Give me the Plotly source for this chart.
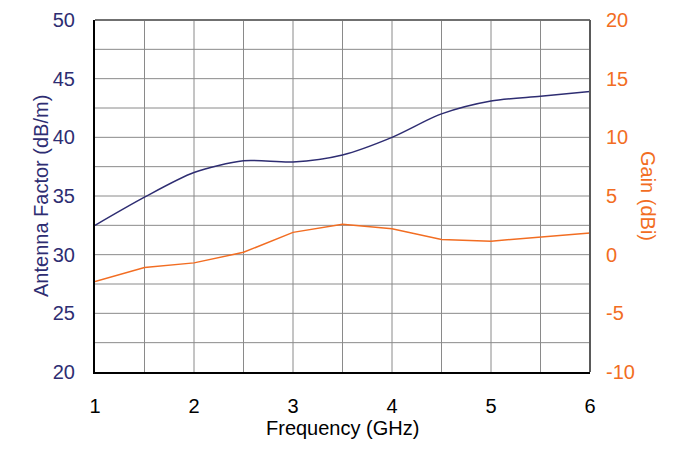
import plotly.graph_objects as go

# Frequency points (GHz)
freq_ghz = [1.0, 1.5, 2.0, 2.5, 3.0, 3.5, 4.0, 4.5, 5.0, 5.5, 6.0]

# Antenna factor (dB/m), left axis
antenna_factor = [32.5, 34.9, 37.0, 38.0, 37.9, 38.5, 40.0, 42.0, 43.1, 43.5, 43.9]

# Gain (dBi), right axis
gain_dbi = [-2.3, -1.1, -0.7, 0.2, 1.9, 2.6, 2.2, 1.3, 1.15, 1.5, 1.85]

x_ticks = [1, 2, 3, 4, 5, 6]
af_ticks = [20, 25, 30, 35, 40, 45, 50]
gain_ticks = [-10, -5, 0, 5, 10, 15, 20]
gain_labels = ["-10", "-5", "0", "5", "10", "15", "20"]
af_grid = [22.5, 25, 27.5, 30, 32.5, 35, 37.5, 40, 42.5, 45, 47.5]

NAVY = "#2e2d72"
ORANGE = "#f26d22"
GRID = "#8a8a8a"
FONT = "Liberation Sans, Arial, sans-serif"
FS = 20

fig = go.Figure()

fig.add_trace(go.Scatter(
    x=freq_ghz, y=antenna_factor, mode="lines",
    line=dict(color=NAVY, width=1.5, shape="spline", smoothing=0.8),
    name="Antenna Factor", yaxis="y",
))
fig.add_trace(go.Scatter(
    x=freq_ghz, y=gain_dbi, mode="lines",
    line=dict(color=ORANGE, width=1.5),
    name="Gain", yaxis="y2",
))

# the page body adds ~8px offset, so margins are shifted to compensate
fig.update_layout(
    width=683, height=466,
    margin=dict(l=87, r=101, t=12, b=102, autoexpand=False),
    paper_bgcolor="white",
    plot_bgcolor="white",
    showlegend=False,
    font=dict(family=FONT, size=FS, color="black"),
    xaxis=dict(
        range=[1, 6], tickvals=x_ticks,
        showgrid=False,
        showline=True, linecolor="black", linewidth=2,
        zeroline=False, ticks="", ticklabelstandoff=15,
        tickfont=dict(size=FS, color="black"),
    ),
    yaxis=dict(
        range=[20, 50], tickvals=af_ticks,
        showgrid=False,
        showline=True, linecolor="black", linewidth=2,
        zeroline=False, ticks="", ticklabelstandoff=14,
        tickfont=dict(color=NAVY, size=FS),
    ),
    yaxis2=dict(
        range=[-10, 20], tickvals=gain_ticks, ticktext=gain_labels,
        overlaying="y", side="right",
        showgrid=False, zeroline=False, showline=False, ticks="",
        ticklabelstandoff=15,
        tickfont=dict(color=ORANGE, size=FS),
    ),
)

# vertical grid every 0.5 GHz
for f in freq_ghz[1:-1]:
    fig.add_shape(type="line", xref="x", yref="paper", x0=f, x1=f, y0=0, y1=1,
                  line=dict(color=GRID, width=1), layer="below")
# horizontal grid every 2.5 dB/m (same as 2.5 dBi on the right scale)
for v in af_grid:
    fig.add_shape(type="line", xref="paper", yref="y", x0=0, x1=1, y0=v, y1=v,
                  line=dict(color=GRID, width=1), layer="below")

# frame: grey top/right edge
fig.add_shape(type="line", xref="paper", yref="paper", x0=0, x1=1, y0=1, y1=1,
              line=dict(color="#707070", width=2))
fig.add_shape(type="line", xref="paper", yref="paper", x0=1, x1=1, y0=0, y1=1,
              line=dict(color="#5a5a5a", width=2))

# axis titles
fig.add_annotation(
    text="Frequency (GHz)", xref="paper", yref="paper", x=0.5, y=0,
    xanchor="center", yanchor="middle", yshift=-56, showarrow=False,
    font=dict(family=FONT, size=FS, color="black"),
)
fig.add_annotation(
    text="Antenna Factor (dB/m)", xref="paper", yref="paper", x=0, y=0.5,
    xanchor="center", yanchor="middle", xshift=-54, showarrow=False,
    textangle=-90, font=dict(family=FONT, size=FS, color=NAVY),
)
fig.add_annotation(
    text="Gain (dBi)", xref="paper", yref="paper", x=1, y=0.5,
    xanchor="center", yanchor="middle", xshift=58, showarrow=False,
    textangle=90, font=dict(family=FONT, size=FS, color=ORANGE),
)

fig.write_html("out.html")
